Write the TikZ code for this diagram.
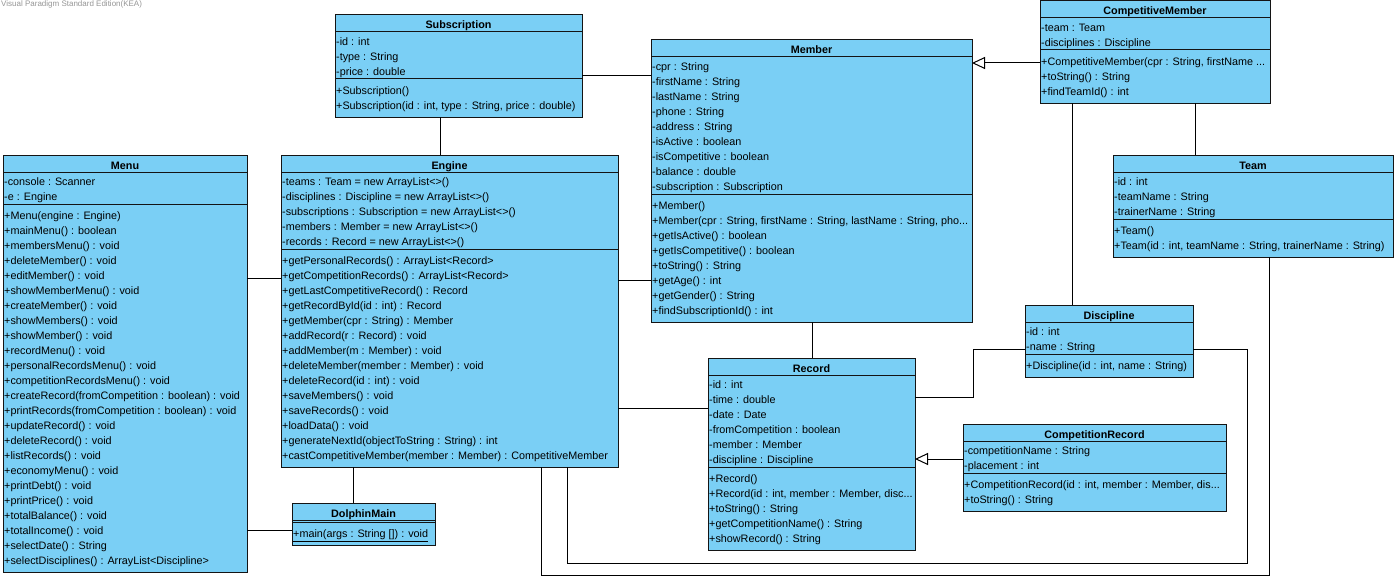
\documentclass[tikz,border=0pt]{standalone}
\usepackage{fontspec}
\setmainfont{Liberation Sans}
\usetikzlibrary{arrows.meta}

\definecolor{classfill}{RGB}{122,207,245}
\definecolor{classedge}{RGB}{20,20,20}
\definecolor{edition}{RGB}{150,150,150}

\tikzset{
  classbox/.style={draw=classedge, fill=classfill, line width=1pt, rectangle, inner sep=0pt, outer sep=0pt},
  classrule/.style={draw=classedge, line width=1pt},
  classname/.style={anchor=base, inner sep=0pt, font=\bfseries\fontsize{10.8}{15}\selectfont},
  classlines/.style={anchor=north west, inner sep=0pt, align=left, font=\fontsize{10.8}{15}\selectfont},
  assoc/.style={draw=black, line width=1pt},
  gen/.style={draw=black, line width=1pt, -{Triangle[open, length=13pt, width=12pt]}},
}

% #1 node name, #2 left x, #3 top y, #4 width, #5 class name,
% #6 attribute count, #7 attributes, #8 operation count, #9 operations
\newcommand\umlclass[9]{%
  \pgfmathsetmacro\ya{#3+17}%
  \pgfmathsetmacro\yb{\ya+15*#6+2}%
  \pgfmathsetmacro\yc{\yb+15*#8+8}%
  \pgfmathsetmacro\hh{\yc-#3}%
  \node[classbox, minimum width=#4pt, minimum height=\hh pt, anchor=north west] (#1) at (#2,#3) {};
  \draw[classrule] (#2,\ya) -- ++(#4,0);
  \draw[classrule] (#2,\yb) -- ++(#4,0);
  \node[classname] (#1-name) at (#2+#4/2,#3+14) {#5};
  \node[classlines] (#1-attrs) at (#2+1,\ya+2.5) {\strut #7};
  \node[classlines] (#1-ops) at (#2+1,\yb+5) {\strut #9};
}

\begin{document}
\begin{tikzpicture}[x=1pt, y=-1pt]
\useasboundingbox[fill=white] (0,0) rectangle (1398,578);

\node[anchor=north west, inner sep=0pt, text=edition, font=\fontsize{8}{9}\selectfont] (edition) at (1,1) {Visual Paradigm Standard Edition(KEA)};

\umlclass{subscription}{335}{15}{247}{Subscription}{3}{%
-id : int\\
-type : String\\
-price : double}{2}{%
+Subscription()\\
+Subscription(id : int, type : String, price : double)}

\umlclass{member}{651}{40}{321}{Member}{9}{%
-cpr : String\\
-firstName : String\\
-lastName : String\\
-phone : String\\
-address : String\\
-isActive : boolean\\
-isCompetitive : boolean\\
-balance : double\\
-subscription : Subscription}{8}{%
+Member()\\
+Member(cpr : String, firstName : String, lastName : String, pho...\\
+getIsActive() : boolean\\
+getIsCompetitive() : boolean\\
+toString() : String\\
+getAge() : int\\
+getGender() : String\\
+findSubscriptionId() : int}

\umlclass{compmember}{1040}{1}{230}{CompetitiveMember}{2}{%
-team : Team\\
-disciplines : Discipline}{3}{%
+CompetitiveMember(cpr : String, firstName ...\\
+toString() : String\\
+findTeamId() : int}

\umlclass{team}{1113}{155}{280}{Team}{3}{%
-id : int\\
-teamName : String\\
-trainerName : String}{2}{%
+Team()\\
+Team(id : int, teamName : String, trainerName : String)}

\umlclass{menu}{3}{155}{244}{Menu}{2}{%
-console : Scanner\\
-e : Engine}{24}{%
+Menu(engine : Engine)\\
+mainMenu() : boolean\\
+membersMenu() : void\\
+deleteMember() : void\\
+editMember() : void\\
+showMemberMenu() : void\\
+createMember() : void\\
+showMembers() : void\\
+showMember() : void\\
+recordMenu() : void\\
+personalRecordsMenu() : void\\
+competitionRecordsMenu() : void\\
+createRecord(fromCompetition : boolean) : void\\
+printRecords(fromCompetition : boolean) : void\\
+updateRecord() : void\\
+deleteRecord() : void\\
+listRecords() : void\\
+economyMenu() : void\\
+printDebt() : void\\
+printPrice() : void\\
+totalBalance() : void\\
+totalIncome() : void\\
+selectDate() : String\\
+selectDisciplines() : ArrayList<Discipline>}

\umlclass{engine}{281}{155}{337}{Engine}{5}{%
-teams : Team = new ArrayList<>()\\
-disciplines : Discipline = new ArrayList<>()\\
-subscriptions : Subscription = new ArrayList<>()\\
-members : Member = new ArrayList<>()\\
-records : Record = new ArrayList<>()}{14}{%
+getPersonalRecords() : ArrayList<Record>\\
+getCompetitionRecords() : ArrayList<Record>\\
+getLastCompetitiveRecord() : Record\\
+getRecordById(id : int) : Record\\
+getMember(cpr : String) : Member\\
+addRecord(r : Record) : void\\
+addMember(m : Member) : void\\
+deleteMember(member : Member) : void\\
+deleteRecord(id : int) : void\\
+saveMembers() : void\\
+saveRecords() : void\\
+loadData() : void\\
+generateNextId(objectToString : String) : int\\
+castCompetitiveMember(member : Member) : CompetitiveMember}

\umlclass{dolphinmain}{292}{503}{143}{DolphinMain}{0}{}{1}{%
\underline{+main(args : String []) : void}}

\umlclass{record}{708}{358}{207}{Record}{6}{%
-id : int\\
-time : double\\
-date : Date\\
-fromCompetition : boolean\\
-member : Member\\
-discipline : Discipline}{5}{%
+Record()\\
+Record(id : int, member : Member, disc...\\
+toString() : String\\
+getCompetitionName() : String\\
+showRecord() : String}

\umlclass{discipline}{1025}{305}{168}{Discipline}{2}{%
-id : int\\
-name : String}{1}{%
+Discipline(id : int, name : String)}

\umlclass{comprecord}{963}{424}{263}{CompetitionRecord}{2}{%
-competitionName : String\\
-placement : int}{2}{%
+CompetitionRecord(id : int, member : Member, dis...\\
+toString() : String}

% bend points of the routed associations
\coordinate (rd-bend) at (973,373);
\coordinate (ed-corner) at (1247,563);
\coordinate (et-corner) at (1269,575);

% associations
\draw[assoc] (subscription.east |- 0,76) -- (member.west |- 0,76);
\draw[assoc] (subscription.south -| 440,0) -- (engine.north -| 440,0);
\draw[assoc] (compmember.south -| 1195,0) -- (team.north -| 1195,0);
\draw[assoc] (compmember.south -| 1072,0) -- (discipline.north -| 1072,0);
\draw[assoc] (menu.east |- 0,278) -- (engine.west |- 0,278);
\draw[assoc] (engine.east |- 0,280) -- (member.west |- 0,280);
\draw[assoc] (member.south -| 812,0) -- (record.north -| 812,0);
\draw[assoc] (engine.south -| 353,0) -- (dolphinmain.north -| 353,0);
\draw[assoc] (menu.east |- 0,530) -- (dolphinmain.west |- 0,530);
\draw[assoc] (engine.east |- 0,408) -- (record.west |- 0,408);
\draw[assoc] (record.east |- 0,397) -| (rd-bend) |- (discipline.west |- 0,349);
\draw[assoc] (engine.south -| 567,0) |- (ed-corner) |- (discipline.east |- 0,349);
\draw[assoc] (engine.south -| 541,0) |- (et-corner) -- (team.south -| et-corner);

% generalizations
\draw[gen] (compmember.west |- 0,63) -- (member.east |- 0,63);
\draw[gen] (comprecord.west |- 0,459) -- (record.east |- 0,459);
\end{tikzpicture}
\end{document}
